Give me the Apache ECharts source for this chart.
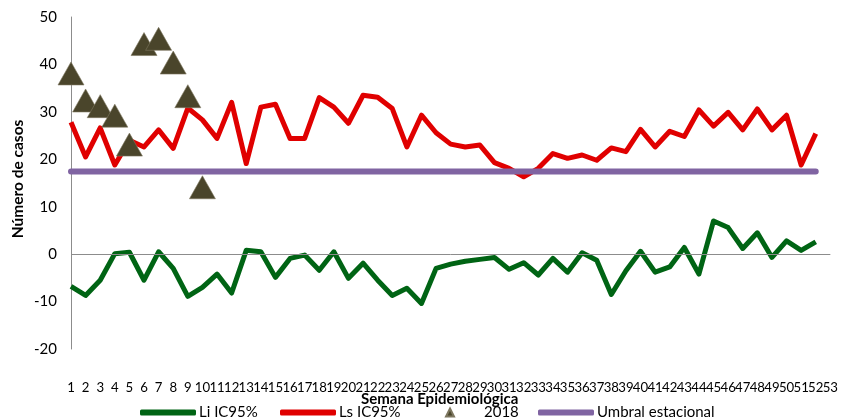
<!DOCTYPE html>
<html>
<head>
<meta charset="utf-8">
<script src="https://cdn.jsdelivr.net/npm/echarts@6/dist/echarts.min.js"></script>
<style>html,body{margin:0;padding:0;background:#fff}#c{width:841px;height:419px}</style>
</head>
<body>
<div id="c"></div>
<script>
var weeks = ['1','2','3','4','5','6','7','8','9','10','11','12','13','14','15','16','17','18','19','20','21','22','23','24','25','26','27','28','29','30','31','32','33','34','35','36','37','38','39','40','41','42','43','44','45','46','47','48','49','50','51','52','53'];
var liIC95 = [-6.8,-8.7,-5.5,0.1,0.4,-5.5,0.5,-3.0,-8.9,-7.0,-4.2,-8.2,0.8,0.5,-4.9,-0.9,-0.2,-3.4,0.5,-5.1,-1.9,-5.5,-8.7,-7.2,-10.4,-3.0,-2.1,-1.5,-1.1,-0.7,-3.2,-1.8,-4.4,-0.9,-3.8,0.3,-1.3,-8.5,-3.5,0.6,-3.8,-2.7,1.4,-4.2,7.0,5.6,1.2,4.5,-0.7,2.8,0.8,2.6,'-'];
var lsIC95 = [27.8,20.5,26.6,18.8,24.0,22.6,26.2,22.3,30.8,28.3,24.4,32.0,19.1,31.0,31.6,24.4,24.4,33.0,31.0,27.6,33.5,33.1,30.7,22.6,29.3,25.6,23.2,22.6,23.0,19.3,18.1,16.3,18.1,21.2,20.2,20.9,19.8,22.4,21.6,26.3,22.6,25.9,24.8,30.4,27.0,29.9,26.2,30.6,26.2,29.3,18.8,25.4,'-'];
var cases2018 = [38.1,32.4,31.2,29.2,23.1,44.3,45.4,40.4,33.3,14.1];
var umbral = [17.4,17.4,17.4,17.4,17.4,17.4,17.4,17.4,17.4,17.4,17.4,17.4,17.4,17.4,17.4,17.4,17.4,17.4,17.4,17.4,17.4,17.4,17.4,17.4,17.4,17.4,17.4,17.4,17.4,17.4,17.4,17.4,17.4,17.4,17.4,17.4,17.4,17.4,17.4,17.4,17.4,17.4,17.4,17.4,17.4,17.4,17.4,17.4,17.4,17.4,17.4,17.4,'-'];
var yTicks = {min: -20, max: 50, interval: 10};

var FONT = 'Lato';
var data2018 = weeks.map(function(w, i){ return i < cases2018.length ? cases2018[i] : '-'; });

var chart = echarts.init(document.getElementById('c'), null, {renderer: 'canvas'});
function legendBox(name, left, w, h, icon, padLeft){
  return {
    data: [{name: name, icon: icon}],
    left: left, top: 405,
    itemWidth: w, itemHeight: h, itemGap: 0,
    padding: 0,
    selectedMode: false,
    textStyle: {fontFamily: FONT, fontSize: 15, color: '#000', padding: [0,0,0,padLeft]}
  };
}
chart.setOption({
  animation: false,
  textStyle: {fontFamily: FONT},
  grid: {left: 71, right: 6, top: 17, bottom: 70, containLabel: false},
  legend: [
    legendBox('Li IC95%', 140, 56, 6, 'roundRect', -2),
    legendBox('Ls IC95%', 280, 56, 6, 'roundRect', -2),
    legendBox('2018', 445, 8, 8, 'triangle', 25),
    legendBox('Umbral estacional', 538, 56, 6, 'roundRect', -2)
  ],
  xAxis: {
    type: 'category', data: weeks, boundaryGap: false,
    name: 'Semana Epidemiológica', nameLocation: 'middle', nameGap: 43, nameMoveOverlap: false,
    nameTextStyle: {fontFamily: FONT, fontWeight: 'bold', fontSize: 15, color: '#000', padding: [0,22,0,0]},
    axisLine: {show: false}, axisTick: {show: false},
    axisLabel: {interval: 0, margin: 32, fontSize: 13.2, color: '#000', fontFamily: FONT},
    splitLine: {show: false}
  },
  yAxis: {
    type: 'value', min: yTicks.min, max: yTicks.max, interval: yTicks.interval,
    name: 'Número de casos', nameLocation: 'middle', nameGap: 45, nameRotate: 90, nameMoveOverlap: false,
    nameTextStyle: {fontFamily: FONT, fontWeight: 'bold', fontSize: 15.5, color: '#000', padding: [0,0,0,8]},
    axisLine: {show: true, lineStyle: {color: '#8c8c8c', width: 1}},
    axisTick: {show: false},
    axisLabel: {margin: 14, fontSize: 15, color: '#000', fontFamily: FONT},
    splitLine: {show: false}
  },
  series: [
    {name: 'Li IC95%', type: 'line', data: liIC95, symbol: 'none', z: 3,
     lineStyle: {color: '#006414', width: 5, join: 'round'}, itemStyle: {color: '#006414'},
     markLine: {silent: true, symbol: 'none', label: {show: false}, animation: false,
       lineStyle: {color: '#8c8c8c', width: 1, type: 'solid'}, data: [{yAxis: 0}]}},
    {name: 'Ls IC95%', type: 'line', data: lsIC95, symbol: 'none', z: 4,
     lineStyle: {color: '#e00000', width: 5, join: 'round'}, itemStyle: {color: '#e00000'}},
    {name: '2018', type: 'scatter', data: data2018, symbol: 'triangle', symbolSize: [26, 23], z: 5,
     itemStyle: {color: '#4a452b', opacity: 1, borderColor: '#7d7760', borderWidth: 0.6}},
    {name: 'Umbral estacional', type: 'line', data: umbral, symbol: 'none', z: 6,
     lineStyle: {color: '#8064a2', width: 6, cap: 'round'}, itemStyle: {color: '#8064a2'}}
  ]
});
</script>
</body>
</html>
